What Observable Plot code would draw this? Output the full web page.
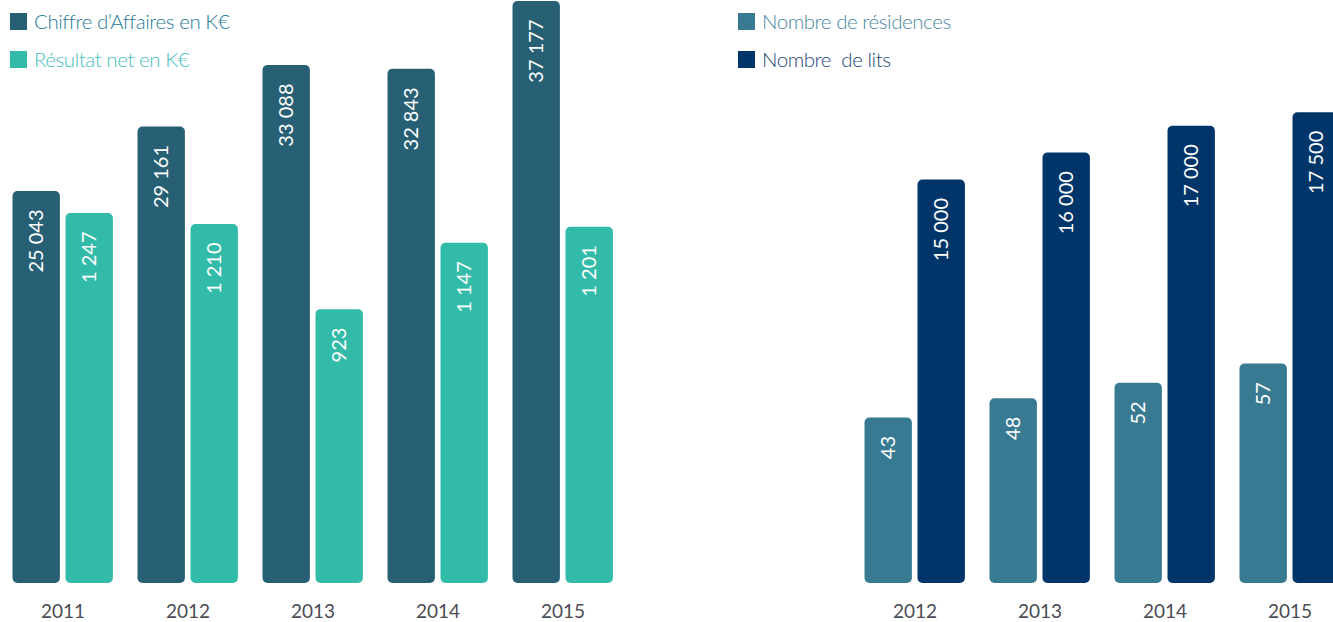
<!DOCTYPE html>
<html>
<head>
<meta charset="utf-8">
<script src="https://cdn.jsdelivr.net/npm/d3@7"></script>
<script src="https://cdn.jsdelivr.net/npm/@observablehq/plot@0.6"></script>
<style>
  html, body { margin: 0; padding: 0; background: #fff; overflow: hidden; }
  #root { position: relative; width: 1333px; height: 622px; font-family: Lato, "Open Sans", sans-serif; }
  #root svg { position: absolute; left: 0; top: 0; }
  .leg { position: absolute; display: flex; align-items: center; font-weight: 300; font-size: 20.5px; letter-spacing: -0.45px; white-space: nowrap; }
  .leg span.sw { display: inline-block; width: 17px; height: 17px; margin-right: 7px; }
</style>
</head>
<body>
<div id="root"></div>
<script>
// ---- data ----
const years = ["2011", "2012", "2013", "2014", "2015"];
const chiffreAffaires = [25043, 29161, 33088, 32843, 37177];
const resultatNet = [1247, 1210, 923, 1147, 1201];

const yearsRes = ["2012", "2013", "2014", "2015"];
const nbResidences = [43, 48, 52, 57];
const nbLits = [15000, 16000, 17000, 17500];

const legendLeft = ["Chiffre d\u2019Affaires en K\u20ac", "R\u00e9sultat net en K\u20ac"];
const legendRight = ["Nombre de r\u00e9sidences", "Nombre  de lits"];

// ---- styling ----
const colors = {
  chiffre: "#275f74", resultat: "#33bba9",
  residences: "#387a91", lits: "#00356a"
};
const legendText = ["#1f7a97", "#45c0bb", "#4a88a0", "#1d4677"];

const fr = d3.formatLocale({decimal: ",", thousands: " ", grouping: [3], currency: ["", ""]}).format(",d");

const root = document.getElementById("root");
const STEP = 125.6;
const BASE = 583;

function series(xs, vals, opts) {
  const data = xs.map((x, i) => ({x, v: vals[i]}));
  const n = xs.length;
  const marks = [
    Plot.barY(data, {x: "x", y: "v", fill: opts.fill, insetLeft: opts.il, insetRight: opts.ir, rx: 5}),
    Plot.text(data, {
      x: "x", y: "v", text: d => fr(d.v), rotate: -90, textAnchor: "end",
      dy: 18, dx: (opts.il - opts.ir) / 2, fill: "white", fontSize: 20
    })
  ];
  if (opts.axis) {
    marks.push(Plot.axisX({tickSize: 0, tickPadding: 21, fontSize: 19, color: "#4b4b55", label: null}));
  }
  return Plot.plot({
    width: 1333, height: 622,
    marginTop: 0, marginLeft: 0, marginRight: 0, marginBottom: 622 - BASE,
    style: {background: "transparent", fontFamily: "Lato, 'Open Sans', sans-serif", overflow: "visible"},
    x: {type: "band", domain: xs, range: [opts.x0, opts.x0 + n * STEP], padding: 0, axis: null, label: null},
    y: {domain: opts.yDomain, range: [BASE, BASE - opts.yHeight], axis: null},
    marks
  });
}

const L0 = -1.5;
const R0 = L0 + 727 + STEP;
const IL1 = 12.5, IR1 = STEP - 12.5 - 48;
const IL2 = 65.5, IR2 = STEP - 65.5 - 48;

root.append(series(years, chiffreAffaires, {fill: colors.chiffre, il: IL1, ir: IR1, x0: L0, yDomain: [0, 37177], yHeight: 582, axis: true}));
root.append(series(years, resultatNet, {fill: colors.resultat, il: IL2, ir: IR2, x0: L0, yDomain: [0, 1247], yHeight: 370}));
root.append(series(yearsRes, nbResidences, {fill: colors.residences, il: IL1, ir: IR1, x0: R0, yDomain: [0, 57], yHeight: 57 * 3.85, axis: true}));
root.append(series(yearsRes, nbLits, {fill: colors.lits, il: IL2, ir: IR2, x0: R0, yDomain: [0, 17500], yHeight: 17.5 * 26.9}));

// ---- legends ----
function legend(x, y, label, sw, tc) {
  const d = document.createElement("div");
  d.className = "leg";
  d.style.left = x + "px";
  d.style.top = y + "px";
  d.style.color = tc;
  d.innerHTML = `<span class="sw" style="background:${sw}"></span>`;
  const t = document.createElement("span");
  t.textContent = label;
  t.style.whiteSpace = "pre";
  d.append(t);
  root.append(d);
}
legend(10, 9, legendLeft[0], colors.chiffre, legendText[0]);
legend(10, 47, legendLeft[1], colors.resultat, legendText[1]);
legend(738, 9, legendRight[0], colors.residences, legendText[2]);
legend(738, 47, legendRight[1], colors.lits, legendText[3]);
</script>
</body>
</html>
